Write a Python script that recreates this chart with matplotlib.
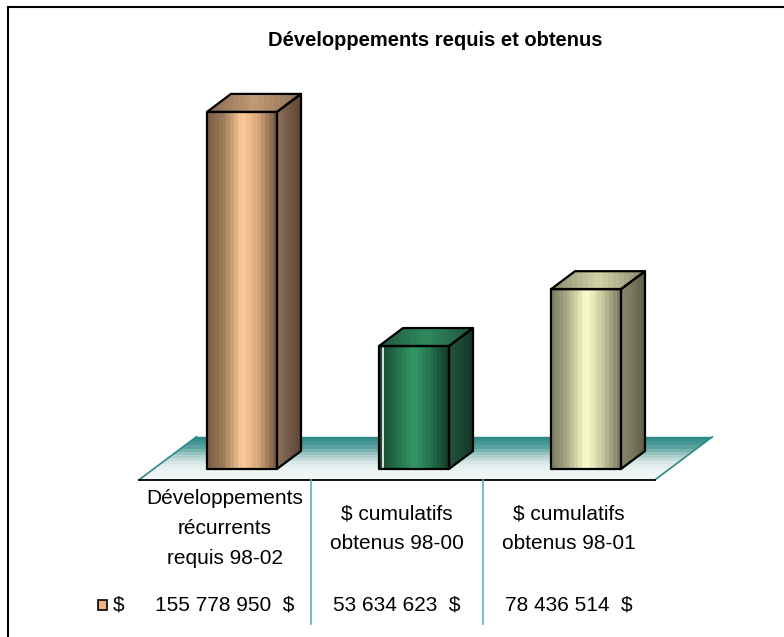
import matplotlib
matplotlib.use("Agg")
import matplotlib.pyplot as plt
import numpy as np
from matplotlib.colors import LinearSegmentedColormap
from matplotlib.patches import Polygon
from matplotlib.lines import Line2D

plt.rcParams["font.family"] = ["Liberation Sans", "DejaVu Sans"]

# données (en millions de $)
categories = ["Développements\nrécurrents\nrequis 98-02",
              "$ cumulatifs\nobtenus 98-00",
              "$ cumulatifs\nobtenus 98-01"]
valeurs = [155.778950, 53.634623, 78.436514]
etiquettes = ["155 778 950  $", "53 634 623  $", "78 436 514  $"]
serie = "$"
titre = "Développements requis et obtenus"

# couleurs des barres : bord, centre clair, côté, dessus
couleurs = [
    ["#7c5e45", "#a5825f", "#ffcc99", "#d8a67a", "#7c5e45"],
    ["#1a4a33", "#23704c", "#339966", "#24734f", "#163f2c"],
    ["#7f7f66", "#b4b48e", "#ffffcc", "#c9c9a0", "#7f7f66"],
]
cotes = [["#8a6e58", "#735a47", "#5e4838"],
         ["#22523b", "#1c4634", "#143526"],
         ["#86866c", "#77775f", "#5f5f4b"]]
dessus = [["#8a6d54", "#c49b75", "#8f735a"],
          ["#1f5a3e", "#2f8a5d", "#21583f"],
          ["#8d8d70", "#d4d4a8", "#8e8e72"]]

fig = plt.figure(figsize=(7.84, 6.37), dpi=100)
ax = fig.add_axes([0, 0, 1, 1])
ax.set_xlim(-242 / 172, (784 - 242) / 172)
ax.set_ylim(-73.3, 204.6)
ax.axis("off")

PX_X = 1 / 172.0
PX_Y = (204.6 + 73.3) / 637.0
larg = 70 * PX_X
dx, dy = 24 * PX_X, 18 * PX_Y
decal = -0.1


def degrade(verts, cols, vertical=False, z=2, n=18):
    poly = Polygon(verts, closed=True, facecolor="none", edgecolor="none")
    ax.add_patch(poly)
    xs, ys = zip(*verts)
    cmap = LinearSegmentedColormap.from_list("g", cols, N=n)
    grad = np.linspace(0, 1, 256)
    img = grad[:, None] if vertical else grad[None, :]
    im = ax.imshow(img, cmap=cmap, aspect="auto", origin="upper",
                   extent=[min(xs), max(xs), min(ys), max(ys)], zorder=z,
                   interpolation="nearest")
    im.set_clip_path(poly)


# sol
fg, fd = -0.5 + decal, len(valeurs) - 0.5 + decal
y_av = -11 * PX_Y
sol = [(fg, y_av), (fd, y_av), (fd + 2.4 * dx, y_av + 2.4 * dy),
       (fg + 2.4 * dx, y_av + 2.4 * dy)]
degrade(sol, ["#2d8a87", "#4f9c99", "#9cc6c3", "#d5e6e5", "#eef4f4", "#f3f6f6"],
        vertical=True, z=1, n=14)
ax.plot([sol[0][0], sol[3][0]], [sol[0][1], sol[3][1]], color="#2d8a87", lw=1.2, zorder=1.5)
ax.plot([sol[1][0], sol[2][0]], [sol[1][1], sol[2][1]], color="#2d8a87", lw=1.2, zorder=1.5)
ax.plot([sol[0][0], sol[1][0]], [y_av, y_av], color="black", lw=1.3, zorder=1.5)

# barres 3D
for i, v in enumerate(valeurs):
    g, d = i - larg / 2, i + larg / 2
    face = [(g, 0), (d, 0), (d, v), (g, v)]
    cote = [(d, 0), (d + dx, dy), (d + dx, v + dy), (d, v)]
    haut = [(g, v), (d, v), (d + dx, v + dy), (g + dx, v + dy)]
    degrade(face, couleurs[i], z=3)
    degrade(cote, cotes[i], z=3, n=8)
    degrade(haut, dessus[i], z=3)
    for p in (face, cote, haut):
        ax.add_patch(Polygon(p, closed=True, facecolor="none", edgecolor="black",
                             lw=1.6, joinstyle="round", zorder=4))
    if i == 1:
        ax.plot([g + 4 * PX_X] * 2, [2 * PX_Y, v - 2 * PX_Y], color="white", lw=1.2, zorder=3.5)

# table de données
for k in range(1, len(valeurs)):
    ax.plot([k - 0.5 + decal] * 2, [y_av, -67.5], color="#5fb3b0", lw=1.2, zorder=2)
y_cat = -26.0
y_val = -59.5
for i, (c, e) in enumerate(zip(categories, etiquettes)):
    ax.text(i + decal + 0.0, y_cat, c, ha="center", va="center", fontsize=15,
            linespacing=1.72, color="black")
    ax.text(i + decal + 0.0, y_val, e, ha="center", va="center", fontsize=15, color="black")

# légende
ax.add_patch(Polygon([(-0.836, y_val - 5 * PX_Y), (-0.784, y_val - 5 * PX_Y),
                      (-0.784, y_val + 5 * PX_Y), (-0.836, y_val + 5 * PX_Y)],
                     closed=True, facecolor="#e8b58a", edgecolor="black", lw=1.2))
ax.text(-0.715, y_val, serie, ha="center", va="center", fontsize=15)

fig.text(435 / 784, 1 - 41 / 637, titre, ha="center", va="center",
         fontsize=14.5, fontweight="bold")

# cadre
fig.add_artist(Line2D([8 / 784, 8 / 784], [0, 1 - 7 / 637], color="black", lw=1.5))
fig.add_artist(Line2D([8 / 784, 1], [1 - 7 / 637, 1 - 7 / 637], color="black", lw=1.5))

fig.savefig("out.png", dpi=100)
